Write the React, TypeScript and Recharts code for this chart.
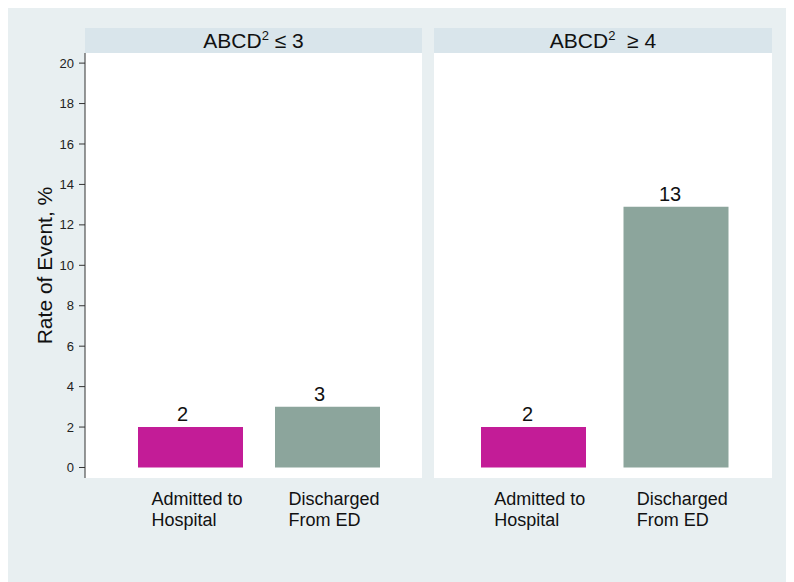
import React from "react";
import { BarChart, Bar, XAxis, YAxis, Cell, LabelList } from "recharts";

const categories = ["Admitted to Hospital", "Discharged From ED"];
const categoryLines = [
  ["Admitted to", "Hospital"],
  ["Discharged", "From ED"],
];
const lowScoreRates = [2, 3];
const highScoreRates = [2, 12.9];
const yTicks = [0, 2, 4, 6, 8, 10, 12, 14, 16, 18, 20];
const barColors = ["#c31c97", "#8ca59c"];

const FONT = '"Liberation Sans", Arial, Helvetica, sans-serif';
const Y_DOMAIN: [number, number] = [-0.52, 20.5];

const lowData = categories.map((name, i) => ({ name, rate: lowScoreRates[i] }));
const highData = categories.map((name, i) => ({ name, rate: highScoreRates[i] }));

function CategoryTick(props: any) {
  const { x, y, payload } = props;
  const idx = categories.indexOf(payload.value);
  const lines = categoryLines[idx] || [payload.value];
  return (
    <text x={x - 39} y={y} fill="#111" fontSize={18} fontFamily={FONT} textAnchor="start">
      {lines.map((line, i) => (
        <tspan key={i} x={x - 39} dy={i === 0 ? 27 : 21}>
          {line}
        </tspan>
      ))}
    </text>
  );
}

function Header({ left, width, children }: { left: number; width: number; children: React.ReactNode }) {
  return (
    <div
      style={{
        position: "absolute",
        left,
        top: 21,
        width,
        height: 25,
        background: "#d9e5eb",
        textAlign: "center",
        fontFamily: FONT,
        fontSize: 21,
        lineHeight: "26px",
        color: "#111",
        whiteSpace: "pre",
      }}
    >
      {children}
    </div>
  );
}

function Sup() {
  return <span style={{ fontSize: 13, position: "relative", top: -8 }}>2</span>;
}

export default function App() {
  return (
    <div
      style={{
        position: "relative",
        width: 787,
        height: 575,
        marginLeft: -1,
        marginTop: -1,
        background: "#e8eff1",
        fontFamily: FONT,
      }}
    >
      {/* white plot panels */}
      <div style={{ position: "absolute", left: 78, top: 46, width: 337, height: 425, background: "#fff" }} />
      <div style={{ position: "absolute", left: 427, top: 46, width: 338, height: 425, background: "#fff" }} />

      <Header left={78} width={337}>
        ABCD<Sup /> ≤ 3
      </Header>
      <Header left={427} width={338}>
        ABCD<Sup />  ≥ 4
      </Header>

      <div style={{ position: "absolute", left: 0, top: 0 }}>
        <BarChart width={423} height={575} data={lowData} margin={{ top: 46, right: 8, left: 0, bottom: 44 }}>
          <YAxis
            width={78}
            domain={Y_DOMAIN}
            ticks={yTicks}
            type="number"
            allowDataOverflow
            tickSize={6}
            tickMargin={5}
            tick={{ fill: "#222", fontSize: 13, fontFamily: FONT }}
            axisLine={{ stroke: "#333", strokeWidth: 1 }}
            tickLine={{ stroke: "#333", strokeWidth: 1 }}
            label={{
              value: "Rate of Event, %",
              angle: -90,
              position: "insideLeft",
              offset: 37.5,
              style: { textAnchor: "middle", fontSize: 21, fill: "#111", fontFamily: FONT },
            }}
          />
          <XAxis
            dataKey="name"
            height={60}
            padding={{ left: 37, right: 26 }}
            axisLine={false}
            tickLine={false}
            tickSize={0}
            tickMargin={0}
            interval={0}
            tick={<CategoryTick />}
          />
          <Bar dataKey="rate" barSize={105} isAnimationActive={false}>
            {lowData.map((d, i) => (
              <Cell key={d.name} fill={barColors[i]} />
            ))}
            <LabelList
              dataKey="rate"
              position="top"
              offset={6}
              dx={-8}
              formatter={(v: any) => Math.round(Number(v))}
              style={{ fontSize: 20, fill: "#111", fontFamily: FONT }}
            />
          </Bar>
        </BarChart>
      </div>

      <div style={{ position: "absolute", left: 423, top: 0 }}>
        <BarChart width={364} height={575} data={highData} margin={{ top: 46, right: 22, left: 4, bottom: 44 }}>
          <YAxis hide domain={Y_DOMAIN} type="number" allowDataOverflow />
          <XAxis
            dataKey="name"
            height={60}
            padding={{ left: 28, right: 25 }}
            axisLine={false}
            tickLine={false}
            tickSize={0}
            tickMargin={0}
            interval={0}
            tick={<CategoryTick />}
          />
          <Bar dataKey="rate" barSize={105} isAnimationActive={false}>
            {highData.map((d, i) => (
              <Cell key={d.name} fill={barColors[i]} />
            ))}
            <LabelList
              dataKey="rate"
              position="top"
              offset={6}
              dx={-6}
              formatter={(v: any) => Math.round(Number(v))}
              style={{ fontSize: 20, fill: "#111", fontFamily: FONT }}
            />
          </Bar>
        </BarChart>
      </div>
    </div>
  );
}
